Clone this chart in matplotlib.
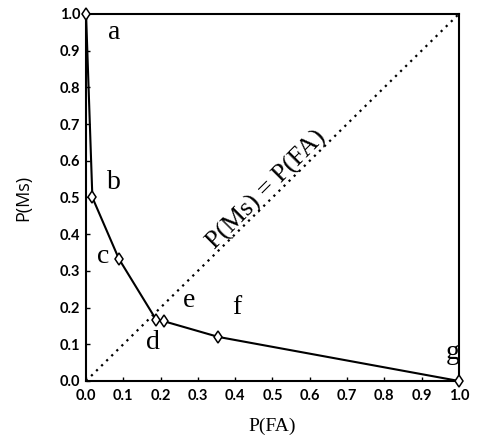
import matplotlib
matplotlib.use("Agg")
import matplotlib.pyplot as plt
import numpy as np

pfa = [0.0, 0.017, 0.088, 0.188, 0.208, 0.355, 1.0]
pms = [1.0, 0.5, 0.333, 0.167, 0.163, 0.12, 0.0]
names = ["a", "b", "c", "d", "e", "f", "g"]
label_pos = [(0.075, 0.95), (0.075, 0.54), (0.045, 0.338), (0.18, 0.105),
             (0.275, 0.218), (0.405, 0.2), (0.984, 0.078)]
ticks = [round(0.1 * i, 1) for i in range(11)]

plt.rcParams['font.family'] = ['Liberation Serif', 'DejaVu Serif']
fig = plt.figure(figsize=(4.78, 4.48), dpi=100)
ax = fig.add_axes([0.18, 0.1496, 0.78, 0.8192])

ax.plot([0, 1], [0, 1], linestyle=(0, (1, 2.2)), color='black', lw=1.6)
ax.plot(pfa, pms, color='black', lw=1.5, marker='d', markersize=6,
        markerfacecolor='white', markeredgecolor='black', markeredgewidth=1.1,
        clip_on=False, zorder=5)

for n, (x, y) in zip(names, label_pos):
    ax.text(x, y, n, fontsize=20, ha='center', va='center')

ax.text(0.485, 0.52, "P(Ms) = P(FA)", fontsize=19, rotation=45,
        ha='center', va='center', rotation_mode='anchor')

ax.set_xlim(0, 1)
ax.set_ylim(0, 1)
ax.set_xticks(ticks)
ax.set_yticks(ticks)
ax.set_xticklabels([f"{t:.1f}" for t in ticks], fontsize=10.5,
                   fontweight='bold', family=['Lato', 'DejaVu Sans'])
ax.set_yticklabels([f"{t:.1f}" for t in ticks], fontsize=10.5,
                   fontweight='bold', family=['Lato', 'DejaVu Sans'])
ax.tick_params(direction='in', length=3, width=1, pad=4)
ax.tick_params(axis='x', pad=6)
for s in ax.spines.values():
    s.set_linewidth(1.5)
ax.set_xlabel("P(FA)", fontsize=14, labelpad=10)
ax.set_ylabel("P(Ms)", fontsize=13, labelpad=20, family=['Open Sans', 'DejaVu Sans'])

fig.savefig("out.png", dpi=100)
